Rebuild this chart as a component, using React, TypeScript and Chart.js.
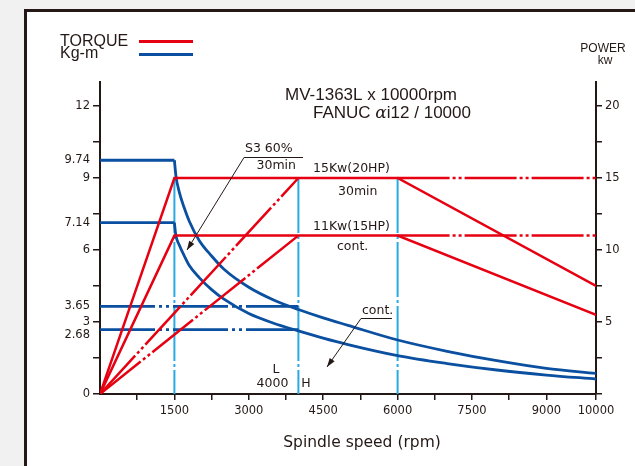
import React, { useEffect, useRef } from "react";
import { Chart, registerables } from "chart.js";
Chart.register(...registerables);

// ---- axis ticks ----
const X_TICKS = [750, 1500, 2250, 3000, 3750, 4500, 5250, 6000, 6750, 7500, 8250, 9000, 10000];
const X_LABELS = [1500, 3000, 4500, 6000, 7500, 9000, 10000];
const Y_TICKS = [0, 1.5, 3, 4.5, 6, 7.5, 9, 10.5, 12];
const Y_LABELS = [0, 3, 6, 9, 12];
const Y_SPECIAL = [3.65, 7.14, 9.74];
const Y_SPECIAL_LOW = 2.68;
const P_TICKS = [0, 2.5, 5, 7.5, 10, 12.5, 15, 17.5, 20];
const P_LABELS = [5, 10, 15, 20];

// ---- power (kW, red) ----
const S3_POWER_RPM = [0, 1500, 6000, 10000];
const S3_POWER_KW = [0, 15, 15, 7.5];
const CONT_POWER_RPM = [0, 1500, 6000, 10000];
const CONT_POWER_KW = [0, 11, 11, 5.5];
const HIGH_S3_POWER_RPM = [0, 4000];
const HIGH_S3_POWER_KW = [0, 15];
const HIGH_CONT_POWER_RPM = [0, 4000];
const HIGH_CONT_POWER_KW = [0, 11];
const EXT_S3_POWER_RPM = [6000, 10000];
const EXT_S3_POWER_KW = [15, 15];
const EXT_CONT_POWER_RPM = [6000, 10000];
const EXT_CONT_POWER_KW = [11, 11];

// ---- torque (Kg-m, blue) ----
const LOW_S3_FLAT_RPM = [0, 1500];
const LOW_S3_FLAT_T = [9.74, 9.74];
const LOW_CONT_FLAT_RPM = [0, 1500];
const LOW_CONT_FLAT_T = [7.14, 7.14];
const HIGH_S3_FLAT_RPM = [0, 4000];
const HIGH_S3_FLAT_T = [3.65, 3.65];
const HIGH_CONT_FLAT_RPM = [0, 4000];
const HIGH_CONT_FLAT_T = [2.68, 2.68];
const S3_TORQUE_RPM = [1500, 1530, 1600, 1700, 1800, 2000, 2250, 2500, 3000, 3500, 4000, 4500, 5000, 6000, 7000, 8000, 9000, 10000];
const S3_TORQUE_T = [9.74, 9.1, 8.4, 7.75, 7.2, 6.4, 5.75, 5.2, 4.45, 3.92, 3.52, 3.17, 2.86, 2.25, 1.78, 1.39, 1.07, 0.86];
const CONT_TORQUE_RPM = [1500, 1530, 1600, 1700, 1800, 2000, 2250, 2500, 3000, 3500, 4000, 4500, 5000, 6000, 7000, 8000, 9000, 10000];
const CONT_TORQUE_T = [7.14, 6.6, 6.2, 5.75, 5.35, 4.85, 4.35, 3.95, 3.35, 2.95, 2.63, 2.33, 2.06, 1.6, 1.27, 1.0, 0.79, 0.625];

// ---- gear-change markers (cyan) ----
const MARKER_RPM = [1500, 4000, 6000];
const MARKER_TOP_T = 9;

const RED = "#e60012";
const BLUE = "#0a4fa0";
const CYAN = "#29abe2";
const INK = "#231815";
const DASH = [52, 3, 3, 3, 3, 3];
const TICK_FONT = { family: "DejaVu Sans", size: 11.5 };

const pts = (xs: number[], ys: number[]) => xs.map((x, i) => ({ x, y: ys[i] }));

function arrow(ctx: CanvasRenderingContext2D, x1: number, y1: number, x2: number, y2: number) {
  ctx.beginPath();
  ctx.moveTo(x1, y1);
  ctx.lineTo(x2, y2);
  ctx.stroke();
  const a = Math.atan2(y2 - y1, x2 - x1);
  const L = 9, W = 3;
  ctx.beginPath();
  ctx.moveTo(x2, y2);
  ctx.lineTo(x2 - L * Math.cos(a) + W * Math.sin(a), y2 - L * Math.sin(a) - W * Math.cos(a));
  ctx.lineTo(x2 - L * Math.cos(a) - W * Math.sin(a), y2 - L * Math.sin(a) + W * Math.cos(a));
  ctx.closePath();
  ctx.fill();
}

const framePlugin = {
  id: "frame",
  beforeDraw(chart: any) {
    const ctx = chart.ctx as CanvasRenderingContext2D;
    ctx.save();
    ctx.fillStyle = "#f1f1f1";
    ctx.fillRect(0, 0, chart.width, chart.height);
    ctx.fillStyle = "#ffffff";
    ctx.fillRect(25, 10, chart.width, chart.height);
    ctx.strokeStyle = INK;
    ctx.lineWidth = 3;
    ctx.beginPath();
    ctx.moveTo(25.5, chart.height + 5);
    ctx.lineTo(25.5, 10.5);
    ctx.lineTo(chart.width + 5, 10.5);
    ctx.stroke();
    ctx.restore();
  },
  afterDraw(chart: any) {
    const ctx = chart.ctx as CanvasRenderingContext2D;
    const ys = chart.scales.y;
    ctx.save();
    ctx.fillStyle = INK;
    ctx.strokeStyle = INK;
    ctx.textBaseline = "alphabetic";
    // header legend
    ctx.font = "16px 'Liberation Sans'";
    ctx.textAlign = "left";
    ctx.fillText("TORQUE", 60, 45.5);
    ctx.fillText("Kg-m", 60, 57.5);
    ctx.lineWidth = 3;
    ctx.strokeStyle = RED;
    ctx.beginPath(); ctx.moveTo(139, 41.5); ctx.lineTo(193, 41.5); ctx.stroke();
    ctx.strokeStyle = BLUE;
    ctx.beginPath(); ctx.moveTo(139, 54.5); ctx.lineTo(193, 54.5); ctx.stroke();
    // power title
    ctx.font = "12px 'Liberation Sans'";
    ctx.textAlign = "center";
    ctx.fillText("POWER", 603, 51.5);
    ctx.fillText("kw", 605, 64);
    // chart title
    ctx.textAlign = "left";
    ctx.font = "17px 'Liberation Sans'";
    ctx.fillText("MV-1363L x 10000rpm", 285, 99.5);
    let x = 313;
    ctx.fillText("FANUC ", x, 118);
    x += ctx.measureText("FANUC ").width;
    ctx.font = "italic 17px 'DejaVu Serif'";
    ctx.fillText("\u03b1", x, 118);
    x += ctx.measureText("\u03b1").width;
    ctx.font = "17px 'Liberation Sans'";
    ctx.fillText("i12 / 10000", x, 118);

    // special low tick label
    ctx.font = "11.5px 'DejaVu Sans'";
    ctx.textAlign = "right";
    ctx.textBaseline = "middle";
    ctx.fillText(String(Y_SPECIAL_LOW), 90, ys.getPixelForValue(Y_SPECIAL_LOW) + 5);

    // annotations
    ctx.font = "12.5px 'DejaVu Sans'";
    ctx.textAlign = "left";
    ctx.fillText("S3 60%", 245, 149);
    ctx.textAlign = "right";
    ctx.fillText("30min", 296, 166);
    ctx.textAlign = "left";
    ctx.fillText("15Kw(20HP)", 313, 168.5);
    ctx.fillText("30min", 338, 192);
    ctx.fillText("11Kw(15HP)", 313, 226.5);
    ctx.fillText("cont.", 337, 246.5);
    ctx.fillText("cont.", 362, 310.5);
    ctx.textAlign = "center";
    ctx.fillText("L", 276, 370);
    ctx.fillText("4000", 272.5, 383.5);
    ctx.fillText("H", 306, 383.5);

    ctx.strokeStyle = INK;
    ctx.fillStyle = INK;
    ctx.lineWidth = 1;
    ctx.beginPath(); ctx.moveTo(244, 157.5); ctx.lineTo(303, 157.5); ctx.stroke();
    arrow(ctx, 244, 157.5, 187, 250);
    ctx.beginPath(); ctx.moveTo(361, 318.5); ctx.lineTo(392, 318.5); ctx.stroke();
    arrow(ctx, 361, 318.5, 327, 367);

    // x axis title
    ctx.font = "15.5px 'DejaVu Sans'";
    ctx.textAlign = "center";
    ctx.textBaseline = "alphabetic";
    ctx.fillText("Spindle speed (rpm)", 362, 447);
    ctx.restore();
  },
};

export default function App() {
  const ref = useRef<HTMLCanvasElement | null>(null);
  useEffect(() => {
    if (!ref.current) return;
    const red = (data: any, dashed = false) => ({
      data, yAxisID: "y1", borderColor: RED, borderWidth: 2.5, pointRadius: 0, tension: 0,
      borderDash: dashed ? DASH : [], order: 0, fill: false,
    });
    const blue = (data: any, dashed = false, curve = false) => ({
      data, yAxisID: "y", borderColor: BLUE, borderWidth: 2.8, pointRadius: 0,
      cubicInterpolationMode: curve ? "monotone" : "default", tension: 0,
      borderDash: dashed ? [55, 4, 3, 4, 3, 4] : [], order: 1, fill: false,
    });
    const cyan = (rpm: number) => ({
      data: [{ x: rpm, y: MARKER_TOP_T }, { x: rpm, y: 0 }], yAxisID: "y", borderColor: CYAN,
      borderWidth: 2, pointRadius: 0, borderDash: [55, 3, 3, 3], order: 2, fill: false,
    });
    const datasets: any[] = [
      red(pts(S3_POWER_RPM, S3_POWER_KW)),
      red(pts(CONT_POWER_RPM, CONT_POWER_KW)),
      red(pts(HIGH_S3_POWER_RPM, HIGH_S3_POWER_KW), true),
      red(pts(HIGH_CONT_POWER_RPM, HIGH_CONT_POWER_KW), true),
      red(pts(EXT_S3_POWER_RPM, EXT_S3_POWER_KW), true),
      red(pts(EXT_CONT_POWER_RPM, EXT_CONT_POWER_KW), true),
      blue(pts(LOW_S3_FLAT_RPM, LOW_S3_FLAT_T)),
      blue(pts(LOW_CONT_FLAT_RPM, LOW_CONT_FLAT_T)),
      blue(pts(HIGH_S3_FLAT_RPM, HIGH_S3_FLAT_T), true),
      blue(pts(HIGH_CONT_FLAT_RPM, HIGH_CONT_FLAT_T), true),
      blue(pts(S3_TORQUE_RPM, S3_TORQUE_T), false, true),
      blue(pts(CONT_TORQUE_RPM, CONT_TORQUE_T), false, true),
      ...MARKER_RPM.map(cyan),
    ];
    const axisGrid = {
      drawOnChartArea: false, drawTicks: true, tickLength: 7, color: INK, lineWidth: 1.5,
    };
    const chart = new Chart(ref.current, {
      type: "line",
      data: { datasets },
      plugins: [framePlugin],
      options: {
        animation: false,
        responsive: false,
        events: [],
        layout: { padding: { top: 82, left: 0, right: 0, bottom: 0 } },
        plugins: { legend: { display: false }, tooltip: { enabled: false } },
        scales: {
          x: {
            type: "linear", min: 0, max: 10000,
            afterBuildTicks: (s: any) => { s.ticks = X_TICKS.map((v) => ({ value: v })); },
            afterFit: (s: any) => { s.height = 72; },
            ticks: {
              autoSkip: false, maxRotation: 0, padding: 4, color: INK, font: TICK_FONT,
              callback: (v: any) => (X_LABELS.includes(Number(v)) ? String(v) : ""),
            },
            grid: { ...axisGrid, tickLength: 6 },
            border: { display: true, color: INK, width: 2 },
          },
          y: {
            type: "linear", position: "left", min: 0, max: 13,
            afterBuildTicks: (s: any) => {
              s.ticks = [...Y_TICKS, ...Y_SPECIAL].sort((a, b) => a - b).map((v) => ({ value: v }));
            },
            afterFit: (s: any) => { s.width = 100; },
            ticks: {
              autoSkip: false, padding: 3, color: INK, font: TICK_FONT,
              callback: (v: any) =>
                Y_LABELS.includes(Number(v)) || Y_SPECIAL.includes(Number(v)) ? String(v) : "",
            },
            grid: {
              ...axisGrid,
              tickColor: (c: any) => (c.tick && Y_SPECIAL.includes(c.tick.value) ? "rgba(0,0,0,0)" : INK),
            },
            border: { display: true, color: INK, width: 2 },
          },
          y1: {
            type: "linear", position: "right", min: 0, max: (13 * 5) / 3,
            afterBuildTicks: (s: any) => { s.ticks = P_TICKS.map((v) => ({ value: v })); },
            afterFit: (s: any) => { s.width = 39; },
            ticks: {
              autoSkip: false, padding: 3, color: INK, font: TICK_FONT,
              callback: (v: any) => (P_LABELS.includes(Number(v)) ? String(v) : ""),
            },
            grid: { ...axisGrid, tickLength: 6 },
            border: { display: true, color: INK, width: 2 },
          },
        },
      } as any,
    });
    return () => chart.destroy();
  }, []);
  return (
    <div style={{ position: "fixed", left: 0, top: 0, width: 635, height: 466 }}>
      <canvas ref={ref} width={635} height={466} />
    </div>
  );
}
